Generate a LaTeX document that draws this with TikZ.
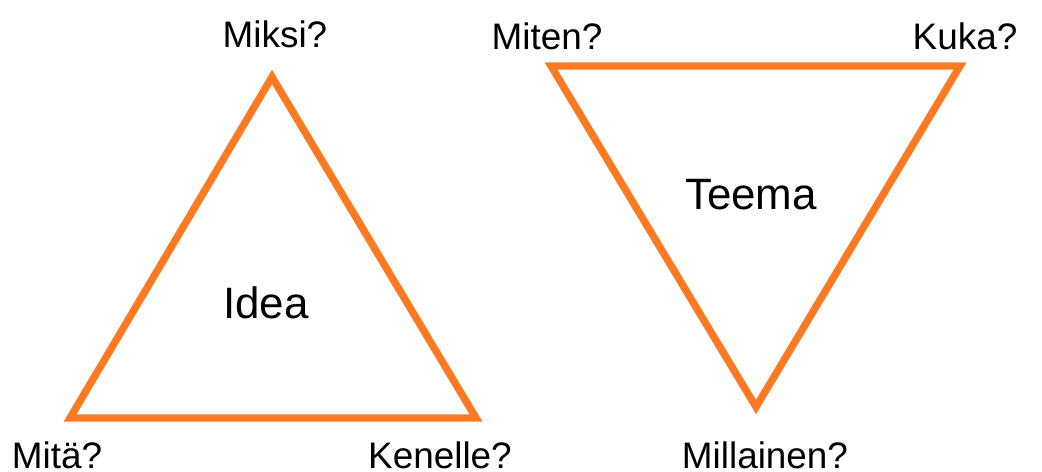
\documentclass[tikz,border=0pt]{standalone}
\usepackage{fontspec}
\setmainfont{Liberation Sans}
\usetikzlibrary{positioning}
\definecolor{triorange}{HTML}{FC7A22}
\tikzset{
    tri/.style={draw=triorange, line width=4.2pt, line join=miter},
    question/.style={font=\fontsize{21}{24}\selectfont, inner sep=0pt},
    theme/.style={font=\fontsize{25}{28}\selectfont, inner sep=0pt}
}

\begin{document}
\begin{tikzpicture}[x=0.02cm, y=-0.02cm]
    \useasboundingbox (0,0) rectangle (1042,472);

    % left triangle
    \coordinate (apex) at (272,77);
    \coordinate (leftbase) at (70,418);
    \coordinate (rightbase) at (476,418);
    \draw[tri] (apex) -- (leftbase) -- (rightbase) -- cycle;

    \node[question] (miksi) at (275,34) {Miksi?};
    \node[question] (mita) at (57,455) {Mitä?};
    \node[question] (kenelle) at (440,455) {Kenelle?};
    \node[theme] (idea) at (266,303) {Idea};

    % right triangle
    \coordinate (topleft) at (551,66);
    \coordinate (topright) at (960,66);
    \coordinate (bottom) at (756,407);
    \draw[tri] (topleft) -- (topright) -- (bottom) -- cycle;

    \node[question] (miten) at (547,36) {Miten?};
    \node[question] (kuka) at (965,36) {Kuka?};
    \node[question] (millainen) at (765,455) {Millainen?};
    \node[theme] (teema) at (751,195) {Teema};
\end{tikzpicture}
\end{document}
